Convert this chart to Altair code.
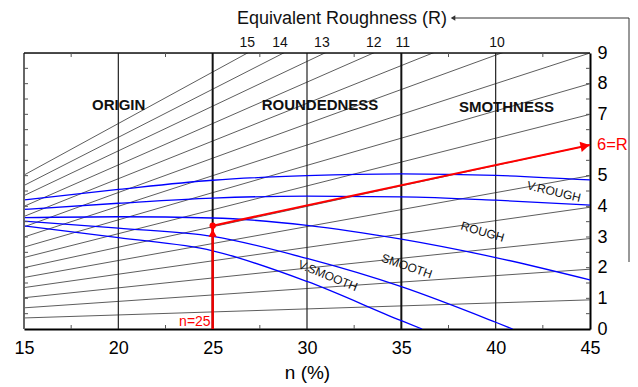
import altair as alt
import pandas as pd

# ---------------- data ----------------
# equivalent-roughness reference lines: value at n=15 and at n=45
r_left = [0.36, 0.69, 1.02, 1.35, 1.68, 2.0, 2.33, 2.67, 3.0, 3.33, 3.67, 4.0, 4.35, 4.68, 5.02]
r_right = [0.95, 1.95, 2.95, 3.97, 5.0, 6.0, 7.0, 8.0, 9.0, 10.05, 11.05, 12.1, 13.1, 14.1, 15.1]

# blue boundary curves
curve_a_n = [15, 20, 25, 30, 35, 40, 45]
curve_a_y = [4.21, 4.55, 4.85, 5.0, 5.06, 5.01, 4.86]
curve_b_n = [15, 20, 25, 30, 35, 40, 45]
curve_b_y = [3.9, 4.1, 4.27, 4.33, 4.31, 4.2, 4.04]
curve_c_n = [15, 20, 25, 30, 35, 40, 45]
curve_c_y = [3.63, 3.66, 3.62, 3.38, 2.93, 2.33, 1.6]
curve_d_n = [15, 20, 25, 30, 35, 40, 40.9]
curve_d_y = [3.52, 3.29, 3.02, 2.3, 1.38, 0.22, 0.0]
curve_e_n = [15, 20, 25, 30, 35, 36.1]
curve_e_y = [3.36, 2.98, 2.55, 1.55, 0.27, 0.0]

# curve labels
curve_labels = ["V.ROUGH", "ROUGH", "SMOOTH", "V.SMOOTH"]
curve_label_n = [43.09, 39.3, 35.29, 31.11]
curve_label_y = [4.48, 3.17, 2.05, 1.74]

# region labels
region_labels = ["ORIGIN", "ROUNDEDNESS", "SMOTHNESS"]
region_n = [20.02, 30.69, 40.57]
region_y = [7.3, 7.3, 7.24]

# top roughness labels
top_labels = ["15", "14", "13", "12", "11", "10"]
top_n = [26.83, 28.57, 30.79, 33.54, 35.07, 40.07]

# example path (red)
ex_n = [25, 45]
ex_y = [3.37, 6.0]

x_ticks = [15, 20, 25, 30, 35, 40, 45]
y_ticks = [0, 1, 2, 3, 4, 5, 7, 8, 9]
thin_grid = [20, 30, 40]
thick_grid = [25, 35]
minor_x = [17.5, 22.5, 27.5, 32.5, 37.5, 42.5]
minor_y = [0.5, 1, 1.5, 2, 2.5, 3, 3.5, 4, 4.5, 5, 5.5, 6, 6.5, 7, 7.5, 8, 8.5]

# ---------------- layout ----------------
W, H = 566, 276
FONT = "Liberation Sans"

xs = alt.Scale(domain=[15, 45], nice=False, zero=False)
ys = alt.Scale(domain=[0, 9], nice=False, zero=False)

xaxis = alt.Axis(orient="bottom", values=x_ticks, labelFontSize=18, labelPadding=10,
                 ticks=False, domainColor="black", domainWidth=2, grid=False,
                 labelFlush=False, labelColor="black", labelFont=FONT,
                 title="n (%)", titleFontSize=19, titleFontWeight="normal",
                 titleFont=FONT, titleColor="black", titlePadding=6)
yaxis = alt.Axis(orient="right", values=y_ticks, labelFontSize=18, labelPadding=7,
                 ticks=False, domainColor="black", domainWidth=2, grid=False,
                 labelColor="black", labelFont=FONT, title=None, format="d")


def X(f="n"):
    return alt.X(f"{f}:Q", scale=xs, axis=xaxis)


def Y(f="y"):
    return alt.Y(f"{f}:Q", scale=ys, axis=yaxis)


# gray lines
rows = []
for i, (a, b) in enumerate(zip(r_left, r_right)):
    rows.append({"id": i, "n": 15, "y": a})
    rows.append({"id": i, "n": 45, "y": b})
gray_df = pd.DataFrame(rows)
gray = alt.Chart(gray_df).mark_line(color="#333333", strokeWidth=0.8, clip=True).encode(
    x=X(), y=Y(), detail="id:N")

# blue curves
rows = []
for name, ns, vs in [("A", curve_a_n, curve_a_y), ("B", curve_b_n, curve_b_y),
                     ("C", curve_c_n, curve_c_y), ("D", curve_d_n, curve_d_y),
                     ("E", curve_e_n, curve_e_y)]:
    for nn, vv in zip(ns, vs):
        rows.append({"c": name, "n": nn, "y": vv})
blue_df = pd.DataFrame(rows)
blue = alt.Chart(blue_df).mark_line(color="#0000ff", strokeWidth=1.3, interpolate="monotone",
                                    clip=True).encode(x=X(), y=Y(), detail="c:N")

# grid lines
grid_thin = alt.Chart(pd.DataFrame({"n": thin_grid})).mark_rule(color="#222222", strokeWidth=1.2).encode(x=X())
grid_thick = alt.Chart(pd.DataFrame({"n": thick_grid})).mark_rule(color="#111111", strokeWidth=2).encode(x=X())

# frame
left_border = alt.Chart(pd.DataFrame({"n": [15]})).mark_rule(color="#666666", strokeWidth=2).encode(x=X())
top_border = alt.Chart(pd.DataFrame({"y": [9]})).mark_rule(color="#111111", strokeWidth=1.5).encode(y=Y())

# inner minor ticks
mx = pd.DataFrame({"n": minor_x})
my = pd.DataFrame({"y": minor_y})
tick_b = alt.Chart(mx).mark_rule(color="#555555", strokeWidth=1).encode(
    x=X(), y=alt.value(H), y2=alt.value(H - 4))
tick_t = alt.Chart(mx).mark_rule(color="#555555", strokeWidth=1).encode(
    x=X(), y=alt.value(0), y2=alt.value(4))
tick_l = alt.Chart(my).mark_rule(color="#555555", strokeWidth=1).encode(
    y=Y(), x=alt.value(0), x2=alt.value(4))
tick_r = alt.Chart(my).mark_rule(color="#555555", strokeWidth=1).encode(
    y=Y(), x=alt.value(W - 4), x2=alt.value(W))

# red example
red_v = alt.Chart(pd.DataFrame({"n": [ex_n[0]], "y": [0], "y2": [ex_y[0]]})).mark_rule(
    color="#ee0000", strokeWidth=2.5).encode(x=X(), y=Y(), y2="y2:Q")
red_d = alt.Chart(pd.DataFrame({"n": ex_n, "y": ex_y})).mark_line(
    color="#ff0000", strokeWidth=2).encode(x=X(), y=Y())
red_dot = alt.Chart(pd.DataFrame({"n": [ex_n[0]], "y": [ex_y[0]]})).mark_circle(
    color="#ff0000", size=40, opacity=1).encode(x=X(), y=Y())
up_arrow = alt.Chart(pd.DataFrame({"n": [ex_n[0]], "y": [ex_y[0] - 0.24]})).mark_point(
    shape="triangle-up", filled=True, color="#ff0000", size=70, opacity=1).encode(x=X(), y=Y())
dn = ex_n[1] - ex_n[0]
dy = ex_y[1] - ex_y[0]
end_arrow = alt.Chart(pd.DataFrame({"n": [ex_n[1] - 0.013 * dn], "y": [ex_y[1] - 0.013 * dy]})).mark_point(
    shape="triangle-up", filled=True, color="#ff0000", size=110, opacity=1, angle=78).encode(x=X(), y=Y())
n25 = alt.Chart(pd.DataFrame({"n": [ex_n[0]], "y": [0.23], "t": ["n=25"]})).mark_text(
    color="#ff0000", fontSize=14, font=FONT, align="right", baseline="middle", dx=-2).encode(
    x=X(), y=Y(), text="t:N")
six_r = alt.Chart(pd.DataFrame({"y": [6], "t": ["6=R"]})).mark_text(
    color="#ff0000", fontSize=16.5, font=FONT, align="left", baseline="middle").encode(
    x=alt.value(W + 7), y=Y(), text="t:N")

# region labels
reg = alt.Chart(pd.DataFrame({"n": region_n, "y": region_y, "t": region_labels})).mark_text(
    fontSize=15, fontWeight="bold", font=FONT, color="#111111").encode(x=X(), y=Y(), text="t:N")

# curve labels (rotated)
label_angles = [13.5, 16.5, 19, 22]
curve_txt = []
for t, nn, vv, ang in zip(curve_labels, curve_label_n, curve_label_y, label_angles):
    curve_txt.append(alt.Chart(pd.DataFrame({"n": [nn], "y": [vv], "t": [t]})).mark_text(
        fontSize=12, font=FONT, color="#111111", angle=ang).encode(x=X(), y=Y(), text="t:N"))

# top labels
top = alt.Chart(pd.DataFrame({"n": top_n, "t": top_labels})).mark_text(
    fontSize=14, font=FONT, color="#111111", baseline="middle").encode(
    x=X(), y=alt.value(-10), text="t:N")

# header with leader
head = alt.Chart(pd.DataFrame({"t": ["Equivalent Roughness (R)"]})).mark_text(
    fontSize=18, font=FONT, color="#111111", baseline="middle", align="center").encode(
    x=alt.value(318), y=alt.value(-34.5), text="t:N")
lead_h = alt.Chart(pd.DataFrame({"k": [0]})).mark_rule(color="#333333", strokeWidth=1).encode(
    x=alt.value(428), x2=alt.value(605), y=alt.value(-35))
lead_v = alt.Chart(pd.DataFrame({"k": [0]})).mark_rule(color="#333333", strokeWidth=1).encode(
    x=alt.value(605), y=alt.value(-35), y2=alt.value(209))
lead_arrow = alt.Chart(pd.DataFrame({"k": [0]})).mark_point(
    shape="triangle-left", filled=True, color="#333333", size=28, opacity=1).encode(
    x=alt.value(429), y=alt.value(-35))

chart = alt.layer(
    gray, grid_thin, grid_thick, blue, left_border, top_border,
    tick_b, tick_t, tick_l, tick_r,
    red_v, red_d, red_dot, up_arrow, end_arrow, n25, six_r,
    reg, *curve_txt, top, head, lead_h, lead_v, lead_arrow
).properties(
    width=W, height=H,
    autosize=alt.AutoSizeParams(type="none"),
    padding={"left": 16, "top": 45, "right": 40, "bottom": 58},
).configure_view(stroke=None).configure(font=FONT)

chart.save("out.html", embed_options={"renderer": "svg", "actions": False})
